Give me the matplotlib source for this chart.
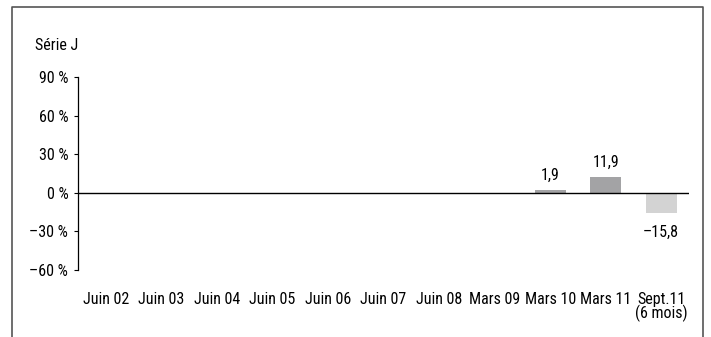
import matplotlib
matplotlib.use("Agg")
import matplotlib.pyplot as plt
from matplotlib.lines import Line2D

categories = ['Juin 02', 'Juin 03', 'Juin 04', 'Juin 05', 'Juin 06', 'Juin 07',
              'Juin 08', 'Mars 09', 'Mars 10', 'Mars 11', 'Sept.11\n(6 mois)']
values = [None, None, None, None, None, None, None, None, 1.9, 11.9, -15.8]
bar_colors = ['#a3a3a5'] * 10 + ['#d3d3d3']
yticks = [-60, -30, 0, 30, 60, 90]
ytick_labels = ['\u201360 %', '\u201330 %', '0 %', '30 %', '60 %', '90 %']

plt.rcParams['font.family'] = ['Roboto Condensed', 'DejaVu Sans']
fs = 11.5

fig = plt.figure(figsize=(7.11, 3.37), dpi=100)
ax = fig.add_axes([78 / 711, 1 - 270 / 337, (689 - 78) / 711, (270 - 77) / 337])

for i, v in enumerate(values):
    if v is None:
        continue
    ax.bar(i, v, width=0.56, color=bar_colors[i], zorder=2)
    lab = ('%.1f' % v).replace('.', ',').replace('-', '\u2013')
    if v >= 0:
        ax.text(i, v + 6, lab, ha='center', va='bottom', fontsize=fs)
    else:
        ax.text(i, v - 9, lab, ha='center', va='top', fontsize=fs)

ax.axhline(0, color='black', linewidth=1, zorder=3)
ax.set_xlim(-0.5, 10.5)
ax.set_ylim(-60, 90)
ax.set_yticks(yticks)
ax.set_yticklabels(ytick_labels, fontsize=fs)
ax.set_xticks(range(len(categories)))
ax.set_xticklabels(categories, fontsize=fs, linespacing=0.85, va='top')
ax.tick_params(axis='x', length=0, pad=16)
ax.tick_params(axis='y', length=3, width=0.8, pad=4)
for s in ['top', 'right', 'bottom']:
    ax.spines[s].set_visible(False)
ax.spines['left'].set_linewidth(0.9)

fig.text(35 / 711, 1 - 45 / 337, 'S\u00e9rie J', fontsize=fs, va='center', ha='left')

# open frame around the chart
fig.add_artist(Line2D([12 / 711, 12 / 711, 703 / 711, 703 / 711],
                      [0, 1 - 7 / 337, 1 - 7 / 337, 0],
                      transform=fig.transFigure, color='#555555', linewidth=1.2))

fig.savefig('out.png', dpi=100)
